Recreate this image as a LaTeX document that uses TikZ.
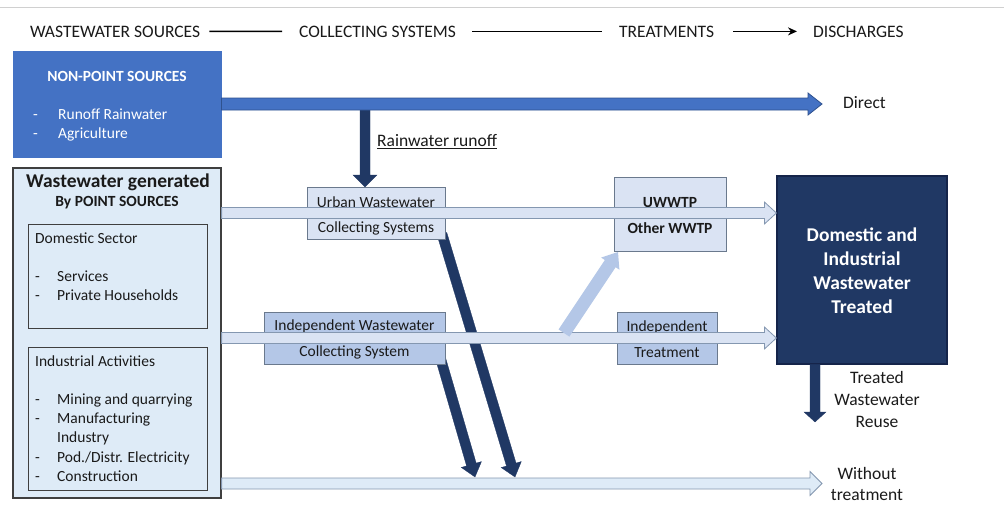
\documentclass[tikz,border=0pt]{standalone}
\usepackage{fontspec}
\setmainfont{Carlito}
\usetikzlibrary{calc,arrows.meta}
\definecolor{npblue}{HTML}{4472C4}
\definecolor{npedge}{HTML}{2F528F}
\definecolor{navy}{HTML}{203864}
\definecolor{navyedge}{HTML}{15244A}
\definecolor{lightbox}{HTML}{DAE3F3}
\definecolor{lighter}{HTML}{DEEBF7}
\definecolor{midbox}{HTML}{B4C7E7}
\definecolor{edgegray}{HTML}{8497B0}
\definecolor{boxedge}{HTML}{3F3F3F}
\definecolor{txtc}{HTML}{1A1A1A}
\definecolor{topline}{HTML}{D0D0D0}
% #1 style, #2 from, #3 to, #4 half shaft, #5 head length, #6 head half width
\newcommand\fatarrow[6]{%
  \coordinate (fah) at ($(#3)!#5!(#2)$);
  \path[#1] ($(#2)!#4!-90:(#3)$) -- ($(fah)!#4!-90:(#3)$) -- ($(fah)!#6!-90:(#3)$) -- (#3)
    -- ($(fah)!#6!90:(#3)$) -- ($(fah)!#4!90:(#3)$) -- ($(#2)!#4!90:(#3)$) -- cycle;
}
\begin{document}
\begin{tikzpicture}[x=1pt,y=-1pt,
  box/.style={draw, rectangle, inner sep=0pt, line width=0.8pt},
  t/.style={font=\fontsize{15.5}{19}\selectfont, text=txtc, inner sep=0pt},
  tb/.style={font=\fontsize{15.5}{19}\selectfont\bfseries, text=txtc, inner sep=0pt},
  tw/.style={font=\fontsize{15.5}{19}\selectfont, text=white, inner sep=0pt},
  hd/.style={font=\fontsize{17.5}{21}\selectfont, text=txtc, inner sep=0pt},
  big/.style={font=\fontsize{17.5}{21}\selectfont, text=txtc, inner sep=0pt},
  bluearrow/.style={fill=npblue, draw=npedge, line width=0.8pt},
  navyarrow/.style={fill=navy, draw=navy, line width=0.3pt},
  lightarrow/.style={fill=lightbox, draw=edgegray, line width=0.8pt},
  bottomarrow/.style={fill=lighter, draw=edgegray, line width=0.8pt},
  diagarrow/.style={fill=midbox, draw=none},
  hline/.style={line width=1.6pt, black}]
\useasboundingbox (0,0) rectangle (1004,504);
\fill[white] (0,0) rectangle (1004,504);
\draw[topline, line width=1pt] (0,7) -- (1004,7);

% header
\node[hd, anchor=base west] (h1) at (30,37) {WASTEWATER SOURCES};
\node[hd, anchor=base west] (h2) at (299,37) {COLLECTING SYSTEMS};
\node[hd, anchor=base west] (h3) at (619,37) {TREATMENTS};
\node[hd, anchor=base west] (h4) at (813,37) {DISCHARGES};
\draw[hline] (h1.east) ++(9,0) coordinate (l1a) -- (h2.west -| 282,0) coordinate (l1b);
\draw[hline] (h2.east) ++(16,0) coordinate (l2a) -- (h3.west -| 602,0) coordinate (l2b);
\draw[hline, -{Stealth[length=9pt,width=8pt]}] (h3.east) ++(19,0) coordinate (l3a) -- (h4.west -| 797,0) coordinate (l3b);

% boxes (sources)
\node[box, fill=npblue, draw=npblue, minimum width=208pt, minimum height=106pt] (np) at (117,104) {};
\node[tw, font=\fontsize{15.5}{19}\selectfont\bfseries, anchor=base] (npt) at (117,81) {NON-POINT SOURCES};
\node[tw, anchor=base west] (npd1) at (33,119) {-};
\node[tw, anchor=base west] (npi1) at (58,119) {Runoff Rainwater};
\node[tw, anchor=base west] (npd2) at (33,138) {-};
\node[tw, anchor=base west] (npi2) at (58,138) {Agriculture};

\node[box, fill=lighter, draw=boxedge, line width=1.2pt, minimum width=208pt, minimum height=330pt] (ps) at (117,333) {};
\node[big, font=\fontsize{19.5}{23}\selectfont\bfseries, anchor=base] (pst1) at (118,187.5) {Wastewater generated};
\node[tb, anchor=base] (pst2) at (117,206) {By POINT SOURCES};

\node[box, draw=boxedge, minimum width=179pt, minimum height=104pt] (dom) at (117.5,276) {};
\node[t, anchor=base west] (domt) at (35,243) {Domestic Sector};
\node[t, anchor=base west] (domd1) at (35,281) {-};
\node[t, anchor=base west] (domi1) at (57,281) {Services};
\node[t, anchor=base west] (domd2) at (35,300) {-};
\node[t, anchor=base west] (domi2) at (57,300) {Private Households};

\node[box, draw=boxedge, minimum width=179pt, minimum height=143pt] (ind) at (117.5,418.5) {};
\node[t, anchor=base west] (indt) at (35,366) {Industrial Activities};
\node[t, anchor=base west] (indd1) at (35,404) {-};
\node[t, anchor=base west] (indi1) at (57,404) {Mining and quarrying};
\node[t, anchor=base west] (indd2) at (35,423) {-};
\node[t, anchor=base west] (indi2) at (57,423) {Manufacturing};
\node[t, anchor=base west] (indi2b) at (57,442) {Industry};
\node[t, anchor=base west] (indd3) at (35,462) {-};
\node[t, anchor=base west] (indi3) at (57,462) {Pod./Distr. Electricity};
\node[t, anchor=base west] (indd4) at (35,481) {-};
\node[t, anchor=base west] (indi4) at (57,481) {Construction};

% treatment / discharge boxes positions
\node[box, fill=navy, draw=navyedge, line width=1.2pt, minimum width=170pt, minimum height=188pt] (dit) at (862,270) {};

% coordinates
\coordinate (rs) at (365,104);
\coordinate (urbtop) at (376,187);
\coordinate (rt) at (rs |- urbtop);
\coordinate (dtip) at (822,104);
\coordinate (na1) at (442,234);
\coordinate (na2) at (515,477);
\coordinate (nb1) at (441,360);
\coordinate (nb2) at (475,477);

% navy arrows behind boxes
\fatarrow{navyarrow}{rs}{rt}{5pt}{12pt}{12pt}
\fatarrow{bluearrow}{np.east}{dtip}{6pt}{14pt}{11pt}
\fatarrow{navyarrow}{na1}{na2}{5pt}{13pt}{10.5pt}
\fatarrow{navyarrow}{nb1}{nb2}{5pt}{13pt}{10.5pt}

\node[big, anchor=base west] (dir) at (843,108.5) {Direct};
\node[big, anchor=base west] (rwr) at (377,146.5) {\underline{Rainwater runoff}};

% collecting boxes
\node[box, fill=lightbox, draw=edgegray!80!black, minimum width=138pt, minimum height=52pt] (urb) at (376,213) {};
\node[box, fill=midbox, draw=edgegray!80!black, minimum width=181pt, minimum height=52pt] (iwc) at (354.5,338) {};
\node[box, fill=lightbox, draw=edgegray!80!black, minimum width=112pt, minimum height=74pt] (uww) at (670,214) {};
\node[box, fill=midbox, draw=edgegray!80!black, minimum width=100pt, minimum height=52pt] (itr) at (667,338) {};

\node[t, anchor=base] (urbt1) at (376,207) {Urban Wastewater};
\node[t, anchor=base] (urbt2) at (376,232) {Collecting Systems};
\node[t, anchor=base] (iwct1) at (354.5,330.5) {Independent Wastewater};
\node[t, anchor=base] (iwct2) at (354.5,356) {Collecting System};
\node[tb, anchor=base] (uwwt1) at (670,207) {UWWTP};
\node[tb, anchor=base] (uwwt2) at (670,233) {Other WWTP};
\node[t, anchor=base] (itrt1) at (667,331) {Independent};
\node[t, anchor=base] (itrt2) at (667,357) {Treatment};

% light arrows
\coordinate (ua1) at (ps.east |- urb.center);
\coordinate (ua2) at (dit.west |- urb.center);
\coordinate (la1) at (ps.east |- iwc.center);
\coordinate (la2) at (dit.west |- iwc.center);
\coordinate (wt) at (822,483.5);
\coordinate (ba1) at (ps.east |- wt);
\coordinate (dl1) at (564,333);
\coordinate (dl2) at (618,252);
\fatarrow{lightarrow}{ua1}{ua2}{5.5pt}{12pt}{11pt}
\fatarrow{lightarrow}{la1}{la2}{5.5pt}{12pt}{11pt}
\fatarrow{diagarrow}{dl1}{dl2}{6.5pt}{14pt}{11pt}
\fatarrow{bottomarrow}{ba1}{wt}{5.5pt}{12pt}{12pt}

% navy box text
\node[font=\fontsize{19.5}{24}\selectfont\bfseries, text=white, inner sep=0pt, anchor=base] (dt1) at (862,241.5) {Domestic and};
\node[font=\fontsize{19.5}{24}\selectfont\bfseries, text=white, inner sep=0pt, anchor=base] (dt2) at (862,265.5) {Industrial};
\node[font=\fontsize{19.5}{24}\selectfont\bfseries, text=white, inner sep=0pt, anchor=base] (dt3) at (862,289.5) {Wastewater};
\node[font=\fontsize{19.5}{24}\selectfont\bfseries, text=white, inner sep=0pt, anchor=base] (dt4) at (862,313.5) {Treated};

% reuse
\coordinate (rut) at (815,422);
\coordinate (rus) at (rut |- dit.south);
\fatarrow{navyarrow}{rus}{rut}{5pt}{10pt}{11pt}
\node[big, anchor=base] (ru1) at (877,383.5) {Treated};
\node[big, anchor=base] (ru2) at (877,405) {Wastewater};
\node[big, anchor=base] (ru3) at (877,427.5) {Reuse};

\node[big, anchor=base] (wo1) at (867,479) {Without};
\node[big, anchor=base] (wo2) at (867,500) {treatment};
\end{tikzpicture}
\end{document}
